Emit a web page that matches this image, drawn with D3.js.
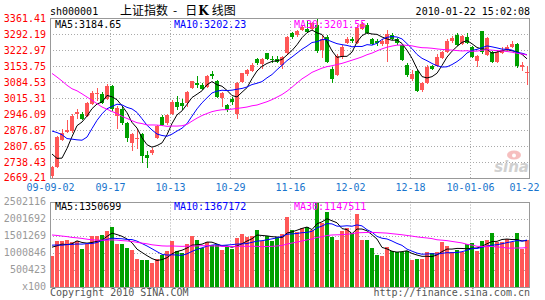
<!DOCTYPE html>
<html>
<head>
<meta charset="utf-8">
<script src="https://cdn.jsdelivr.net/npm/d3@7"></script>
<style>
body { margin: 0; background: #fff; }
svg { display: block; }
text { font-family: "DejaVu Sans Mono", monospace; font-size: 10px; }
</style>
</head>
<body>
<script>
// daily K-line, 2009-09-02 .. 2010-01-22 (96 trading days)
const opens = [2680, 2718, 2835, 2870, 2872, 2948, 2946, 2937, 2990, 3032, 3032, 3010, 3067, 2937, 2966, 2908,
  2822, 2836, 2858, 2767, 2776, 2843, 2935, 2906, 2945, 3000, 2995, 2993, 3060, 3081, 3073, 3064,
  3118, 3090, 3015, 2984, 3012, 2945, 3084, 3118, 3132, 3185, 3161, 3209, 3183, 3185, 3156, 3209,
  3295, 3287, 3309, 3315, 3315, 3330, 3225, 3280, 3142, 3115, 3194, 3255, 3272, 3255, 3312, 3330,
  3269, 3262, 3248, 3248, 3290, 3269, 3243, 3157, 3096, 3132, 3050, 3081, 3153, 3153, 3190, 3214,
  3262, 3290, 3250, 3280, 3237, 3175, 3305, 3200, 3214, 3171, 3210, 3225, 3238, 3250, 3150, 3122];
const highs = [2722, 2852, 2882, 2922, 2946, 2968, 2955, 3000, 3045, 3060, 3040, 3076, 3070, 2980, 2975, 2912,
  2862, 2880, 2862, 2786, 2800, 2900, 2940, 2946, 3005, 3022, 3010, 3045, 3090, 3110, 3080, 3115,
  3130, 3095, 3040, 2990, 3020, 3085, 3125, 3140, 3165, 3190, 3188, 3212, 3197, 3195, 3196, 3285,
  3300, 3310, 3330, 3348, 3345, 3361.41, 3290, 3290, 3150, 3205, 3245, 3280, 3278, 3330, 3345, 3340,
  3275, 3270, 3270, 3310, 3298, 3275, 3250, 3165, 3135, 3136, 3085, 3160, 3160, 3205, 3218, 3270,
  3282, 3295, 3290, 3295, 3240, 3200, 3306, 3280, 3220, 3225, 3235, 3245, 3262, 3255, 3170, 3153];
const lows = [2669.21, 2712, 2829, 2862, 2866, 2925, 2920, 2932, 2985, 3002, 2990, 3005, 2960, 2880, 2900, 2825,
  2786, 2793, 2735, 2714, 2770, 2840, 2895, 2900, 2940, 2963, 2965, 2978, 3055, 3060, 3048, 3060,
  3098, 3015, 2978, 2955, 2985, 2926, 3080, 3112, 3128, 3160, 3140, 3180, 3165, 3165, 3140, 3205,
  3272, 3280, 3305, 3297, 3310, 3212, 3190, 3165, 3081, 3110, 3185, 3250, 3255, 3250, 3308, 3292,
  3243, 3240, 3240, 3172, 3265, 3245, 3175, 3105, 3090, 3041, 3041, 3078, 3135, 3148, 3185, 3210,
  3255, 3240, 3245, 3250, 3190, 3150, 3205, 3195, 3165, 3165, 3205, 3220, 3232, 3145, 3130, 3070];
const closes = [2715, 2845, 2866, 2877, 2937, 2953, 2924, 2995, 3037, 3038, 2995, 3067, 2966, 2973, 2908, 2844,
  2858, 2843, 2764, 2757, 2790, 2894, 2900, 2940, 3000, 2978, 2980, 3041, 3088, 3071, 3053, 3110,
  3110, 3020, 3038, 2963, 2998, 3081, 3122, 3136, 3157, 3165, 3183, 3183, 3180, 3171, 3193, 3280,
  3280, 3305, 3323, 3301, 3338, 3218, 3270, 3171, 3099, 3198, 3238, 3272, 3262, 3319, 3334, 3298,
  3248, 3254, 3262, 3292, 3270, 3252, 3180, 3114, 3120, 3045, 3081, 3150, 3142, 3194, 3214, 3262,
  3277, 3244, 3282, 3254, 3193, 3196, 3212.8, 3273.0, 3172.7, 3215.6, 3224.9, 3237.1, 3246.9, 3151.6, 3159.6, 3128.1];
const volumes = [900000, 1350000, 1350000, 1380000, 1310000, 1330000, 1110000, 1250000, 1480000, 1490000, 1510000, 1640000,
  1740000, 1260000, 1240000, 1120000, 1080000, 800000, 770000, 770000, 690000, 800000, 930000, 1050000,
  1330000, 1040000, 990000, 1250000, 1480000, 1380000, 1130000, 1300000, 1230000, 1210000, 1080000, 1150000,
  1110000, 1420000, 1540000, 1470000, 1490000, 1660000, 1350000, 1480000, 1350000, 1450000, 1550000, 2040000,
  1650000, 1590000, 1720000, 1750000, 1670000, 2502116, 1870000, 2180000, 1450000, 1380000, 1640000, 1720000,
  1580000, 2140000, 1380000, 1380000, 1140000, 940000, 910000, 1165000, 1037000, 1008000, 1008000, 1037000,
  772000, 811000, 811000, 1017000, 988000, 1017000, 1302000, 1184000, 1017000, 1086000, 1008000, 1253000,
  1282000, 1040610, 1340000, 1380000, 1576000, 1311000, 1311225, 1405000, 1307000, 1572000, 1111000, 1358495];

// 29 sessions before the window, only used to warm up the moving averages
const prevCloses = [3320, 3372, 3435, 3387, 3219, 3318, 3412, 3462, 3471, 3428, 3356, 3260, 3250, 3270, 3112,
  3140, 3113, 2870, 2944, 2785, 2911, 2959, 3045, 2961, 2983, 2940, 2860, 2667, 2683];
const prevVolumes = [1750000, 1900000, 1850000, 2050000, 1700000, 1600000, 1950000, 2000000, 1800000, 1550000,
  1620000, 1500000, 1450000, 1700000, 1400000, 1520000, 1600000, 1450000, 1380000, 1550000,
  1300000, 1420000, 1200000, 1250000, 1210000, 1150000, 1100000, 1450000, 1190000];

const dateTicks = ['09-09-02', '09-17', '10-13', '10-29', '11-16', '12-02', '12-18', '10-01-06', '01-22'];
const priceTicks = ['3361.41', '3292.19', '3222.97', '3153.75', '3084.53', '3015.31', '2946.09', '2876.87', '2807.65', '2738.43', '2669.21'];
const volTicks = ['2502116', '2001692', '1501269', '1000846', '500423', 'x100'];
const maPeriods = [5, 10, 30];
const priceMaLabels = ['MA5:3184.65', 'MA10:3202.23', 'MA30:3201.55'];
const volMaLabels = ['MA5:1350699', 'MA10:1367172', 'MA30:1147511'];

const width = 545, height = 300;
const left = 50, right = 530;
const main = {top: 18, bottom: 178};
const vol = {top: 201.5, bottom: 286.5};
const up = '#ff5757', down = '#00a000';
const maColors = ['#000000', '#0000ff', '#ff00ff'];
const gridColor = '#aaa';

const n = closes.length;
const x = d3.scaleLinear().domain([0, n]).range([left, right]);
const y = d3.scaleLinear().domain([d3.min(lows), d3.max(highs)]).range([main.bottom, main.top]);
const yv = d3.scaleLinear().domain([0, d3.max(volumes)]).range([vol.bottom, vol.top]);
const step = x(1) - x(0);

function movingAverage(prev, values, p) {
  const all = prev.concat(values);
  const off = prev.length;
  return values.map((v, i) => d3.mean(all.slice(off + i - p + 1, off + i + 1)));
}

const svg = d3.select('body').append('svg')
  .attr('width', width)
  .attr('height', height);

function grid(g, top, bottom, yValues) {
  g.selectAll('line.h')
    .data(yValues)
    .join('line')
      .attr('class', 'h')
      .attr('x1', left).attr('x2', right)
      .attr('y1', d => Math.round(d) + 0.5).attr('y2', d => Math.round(d) + 0.5);
  g.selectAll('line.v')
    .data(d3.range(12, n, 12))
    .join('line')
      .attr('class', 'v')
      .attr('x1', d => x(d) + 0.5).attr('x2', d => x(d) + 0.5)
      .attr('y1', top).attr('y2', bottom);
  g.selectAll('line')
    .attr('stroke', gridColor)
    .attr('stroke-dasharray', '1,2');
}

// grids
const priceVals = priceTicks.map(Number);
grid(svg.append('g'), main.top, main.bottom, priceVals.slice(1, -1).map(y));
const volVals = volTicks.map((t, i) => d3.max(volumes) * (volTicks.length - 1 - i) / (volTicks.length - 1));
grid(svg.append('g'), vol.top, vol.bottom, volVals.slice(1, -1).map(yv));

// watermark
const wm = svg.append('g').attr('opacity', 0.85);
wm.append('ellipse').attr('cx', 514).attr('cy', 155).attr('rx', 7).attr('ry', 4.5).attr('fill', '#f5b5b5');
wm.append('circle').attr('cx', 514).attr('cy', 155.5).attr('r', 2).attr('fill', '#fff');
wm.append('text')
  .attr('x', 529).attr('y', 172)
  .attr('text-anchor', 'end')
  .style('font-family', '"DejaVu Sans", sans-serif')
  .style('font-size', '15px')
  .style('font-style', 'italic')
  .style('font-weight', 'bold')
  .attr('fill', '#c8c8c8')
  .text('sina');

// candles
const candles = svg.append('g').attr('shape-rendering', 'crispEdges');
const idx = d3.range(n);
const color = i => closes[i] >= opens[i] ? up : down;

candles.selectAll('rect.wick')
  .data(idx)
  .join('rect')
    .attr('class', 'wick')
    .attr('x', i => x(i) + 2)
    .attr('width', 1)
    .attr('y', i => y(highs[i]))
    .attr('height', i => Math.max(1, y(lows[i]) - y(highs[i])))
    .attr('fill', color);

candles.selectAll('rect.body')
  .data(idx)
  .join('rect')
    .attr('class', 'body')
    .attr('x', i => x(i))
    .attr('width', step - 1)
    .attr('y', i => y(Math.max(opens[i], closes[i])))
    .attr('height', i => Math.max(1, Math.abs(y(opens[i]) - y(closes[i]))))
    .attr('fill', color);

// volume bars
svg.append('g').attr('shape-rendering', 'crispEdges')
  .selectAll('rect')
  .data(idx)
  .join('rect')
    .attr('x', i => x(i))
    .attr('width', step - 1)
    .attr('y', i => yv(volumes[i]))
    .attr('height', i => vol.bottom - yv(volumes[i]))
    .attr('fill', color);

// moving averages
function drawMA(prev, values, scale) {
  const line = d3.line().x((d, i) => x(i) + 2).y(d => scale(d));
  maPeriods.forEach((p, k) => {
    svg.append('path')
      .datum(movingAverage(prev, values, p))
      .attr('d', line)
      .attr('fill', 'none')
      .attr('stroke', maColors[k])
      .attr('stroke-width', 1);
  });
}
drawMA(prevCloses, closes, y);
drawMA(prevVolumes, volumes, yv);

// frames
[main, vol].forEach(p => {
  svg.append('rect')
    .attr('x', left + 0.5).attr('y', Math.round(p.top) + 0.5)
    .attr('width', right - left - 1).attr('height', Math.round(p.bottom) - Math.round(p.top))
    .attr('fill', 'none')
    .attr('stroke', '#999');
});

// axes
const yAxis = svg.append('g')
  .attr('transform', `translate(${left},0)`)
  .call(d3.axisLeft(y).tickValues(priceVals).tickSize(0).tickPadding(4).tickFormat((d, i) => priceTicks[i]));
yAxis.select('.domain').remove();
yAxis.selectAll('text').attr('fill', '#ff0000').style('font-family', '"DejaVu Sans Mono", monospace').style('font-size', '10px');
yAxis.selectAll('text').filter((d, i) => i === priceTicks.length - 1).attr('dy', '0.2em');

const vAxis = svg.append('g')
  .attr('transform', `translate(${left},0)`)
  .call(d3.axisLeft(yv).tickValues(volVals).tickSize(0).tickPadding(4).tickFormat((d, i) => volTicks[i]));
vAxis.select('.domain').remove();
vAxis.selectAll('text').attr('fill', '#999').style('font-family', '"DejaVu Sans Mono", monospace').style('font-size', '10px');

const xAxis = svg.append('g')
  .attr('transform', `translate(0,${main.bottom})`)
  .call(d3.axisBottom(x).tickValues(d3.range(0, n + 1, 12)).tickSize(0).tickPadding(6).tickFormat((d, i) => dateTicks[i]));
xAxis.select('.domain').remove();
xAxis.selectAll('text').attr('fill', '#1874cd').style('font-family', '"DejaVu Sans Mono", monospace').style('font-size', '10px');
xAxis.selectAll('text').filter((d, i) => i === dateTicks.length - 1).attr('x', -6);

// MA labels
const labelX = [55, 174, 294];
priceMaLabels.forEach((t, k) => {
  svg.append('text').attr('x', labelX[k]).attr('y', 28).attr('fill', maColors[k]).text(t);
});
volMaLabels.forEach((t, k) => {
  svg.append('text').attr('x', labelX[k]).attr('y', 209.5).attr('fill', maColors[k]).text(t);
});

// header and footer
svg.append('text').attr('x', 50).attr('y', 15).text('sh000001');
const title = svg.append('text')
  .attr('x', 120).attr('y', 15)
  .style('font-family', '"Noto Sans CJK SC", sans-serif')
  .style('font-size', '12px');
title.append('tspan').text('上证指数');
title.append('tspan').attr('dx', 5).text('-');
title.append('tspan').attr('dx', 8).text('日');
title.append('tspan').attr('dx', 1).style('font-weight', 'bold').style('font-family', '"DejaVu Serif", serif').text('K');
title.append('tspan').attr('dx', 3).text('线图');
svg.append('text').attr('x', 530).attr('y', 15).attr('text-anchor', 'end').text('2010-01-22 15:02:08');
svg.append('text').attr('x', 50).attr('y', 296).attr('fill', '#555').text('Copyright 2010 SINA.COM');
svg.append('text').attr('x', 530).attr('y', 296).attr('text-anchor', 'end').attr('fill', '#555').text('http://finance.sina.com.cn');
</script>
</body>
</html>
